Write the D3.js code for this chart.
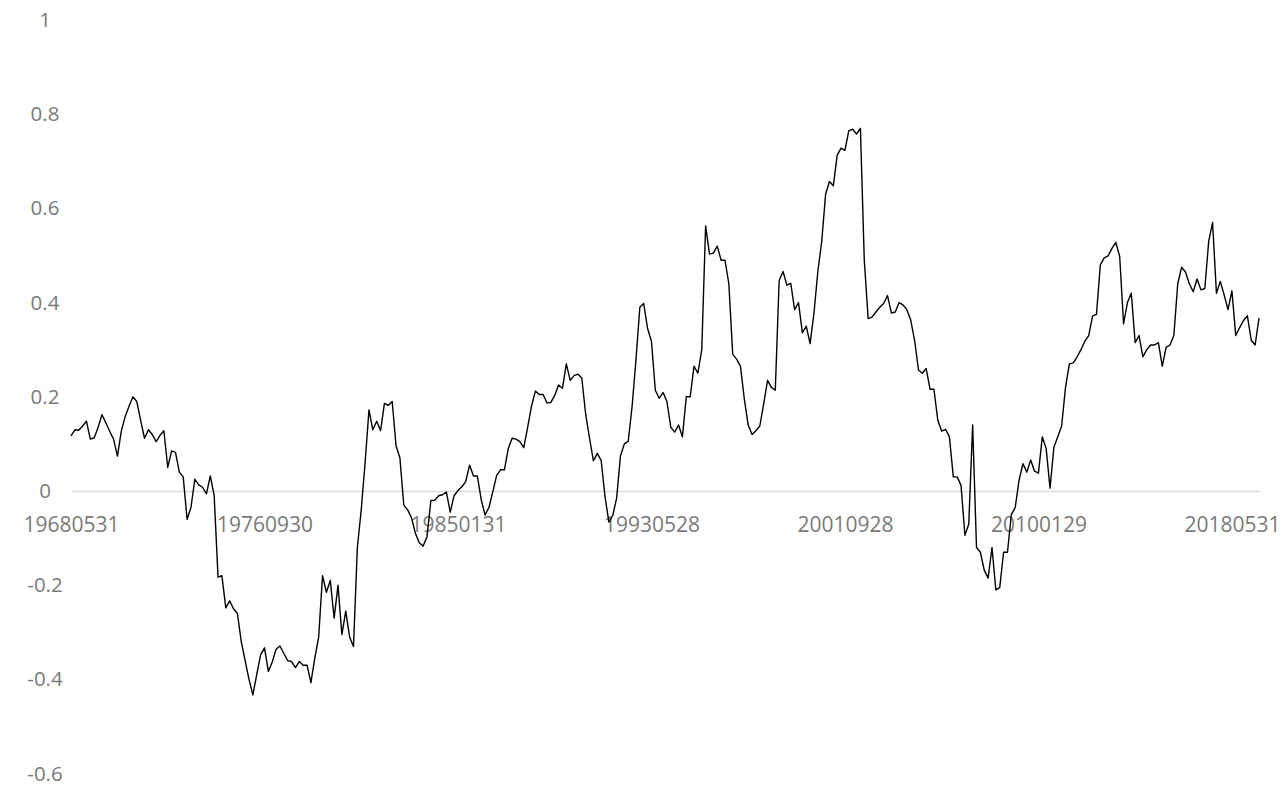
<!DOCTYPE html>
<html>
<head>
<meta charset="utf-8">
<script src="https://cdnjs.cloudflare.com/ajax/libs/d3/7.8.5/d3.min.js"></script>
<style>
  body { margin: 0; background: #fff; }
  .axis text { font-family: "Open Sans", "Liberation Sans", sans-serif; fill: #7a7a7a; }
</style>
</head>
<body>
<div id="chart"></div>
<script>
// one value every two months, 1968-05 .. 2019-07
var values = [
  0.117, 0.13, 0.129, 0.138, 0.148, 0.110, 0.113, 0.135, 0.162, 0.145,
  0.127, 0.11, 0.074, 0.127, 0.158, 0.18, 0.200, 0.19, 0.15, 0.112,
  0.13, 0.12, 0.105, 0.118, 0.128, 0.05, 0.085, 0.082, 0.04, 0.03,
  -0.06, -0.035, 0.025, 0.013, 0.008, -0.006, 0.032, -0.01, -0.183, -0.18,
  -0.248, -0.233, -0.25, -0.26, -0.32, -0.36, -0.40, -0.433, -0.39, -0.348,
  -0.333, -0.383, -0.363, -0.336, -0.329, -0.345, -0.36, -0.362, -0.375, -0.362,
  -0.37, -0.37, -0.407, -0.355, -0.31, -0.18, -0.215, -0.19, -0.27, -0.2,
  -0.305, -0.255, -0.31, -0.33, -0.12, -0.04, 0.06, 0.172, 0.13, 0.148,
  0.128, 0.186, 0.182, 0.19, 0.096, 0.07, -0.03, -0.04, -0.057, -0.09,
  -0.11, -0.117, -0.097, -0.02, -0.02, -0.01, -0.008, -0.002, -0.045, -0.01,
  0.001, 0.009, 0.02, 0.055, 0.032, 0.032, -0.018, -0.051, -0.035, -0.002,
  0.033, 0.045, 0.045, 0.09, 0.112, 0.11, 0.105, 0.092, 0.135, 0.18,
  0.212, 0.205, 0.205, 0.187, 0.188, 0.203, 0.225, 0.218, 0.27, 0.235,
  0.245, 0.248, 0.24, 0.163, 0.112, 0.064, 0.08, 0.065, -0.012, -0.066,
  -0.052, -0.015, 0.075, 0.10, 0.106, 0.18, 0.278, 0.39, 0.398, 0.345,
  0.318, 0.214, 0.197, 0.209, 0.19, 0.135, 0.125, 0.14, 0.115, 0.2,
  0.2, 0.265, 0.25, 0.30, 0.563, 0.503, 0.505, 0.52, 0.49, 0.49,
  0.44, 0.29, 0.28, 0.265, 0.195, 0.14, 0.12, 0.128, 0.138, 0.185,
  0.235, 0.22, 0.214, 0.447, 0.466, 0.437, 0.441, 0.385, 0.40, 0.336,
  0.35, 0.313, 0.378, 0.466, 0.53, 0.63, 0.657, 0.648, 0.713, 0.728,
  0.723, 0.765, 0.768, 0.758, 0.77, 0.49, 0.366, 0.369, 0.38, 0.39,
  0.398, 0.415, 0.378, 0.38, 0.40, 0.395, 0.385, 0.363, 0.32, 0.257,
  0.25, 0.26, 0.216, 0.216, 0.15, 0.127, 0.131, 0.115, 0.03, 0.03,
  0.012, -0.094, -0.07, 0.14, -0.12, -0.13, -0.168, -0.185, -0.12, -0.21,
  -0.205, -0.13, -0.13, -0.05, -0.035, 0.023, 0.058, 0.04, 0.066, 0.042,
  0.038, 0.115, 0.09, 0.006, 0.093, 0.115, 0.138, 0.22, 0.27, 0.272,
  0.285, 0.30, 0.318, 0.33, 0.372, 0.375, 0.48, 0.495, 0.499, 0.515,
  0.528, 0.498, 0.355, 0.40, 0.42, 0.315, 0.33, 0.285, 0.3, 0.31,
  0.31, 0.315, 0.265, 0.305, 0.31, 0.33, 0.44, 0.475, 0.465, 0.44,
  0.423, 0.45, 0.427, 0.43, 0.53, 0.57, 0.42, 0.445, 0.416, 0.385,
  0.425, 0.33, 0.347, 0.362, 0.372, 0.32, 0.31, 0.367
];

var tickLabels = ["19680531", "19760930", "19850131", "19930528", "20010928", "20100129", "20180531"];
var tickStep = 50;   // a label every 100 months
var yTicks = [1, 0.8, 0.6, 0.4, 0.2, 0, -0.2, -0.4, -0.6];

var width = 1286,
    height = 789;

var x = d3.scaleLinear().domain([0, values.length - 1]).range([71, 1259]),
    y = d3.scaleLinear().domain([-0.6, 1]).range([773.6, 20]);

var svg = d3.select("#chart").append("svg")
    .attr("width", width)
    .attr("height", height);

svg.append("rect")
    .attr("width", width)
    .attr("height", height)
    .attr("fill", "#fff");

var yAxis = d3.axisLeft(y)
    .tickValues(yTicks)
    .tickSize(0)
    .tickFormat(function (d) { return String(d); });

var gy = svg.append("g")
    .attr("class", "axis axis--y")
    .attr("transform", "translate(45,0)")
    .call(yAxis);
gy.select(".domain").remove();
gy.selectAll("text")
    .attr("x", 0)
    .style("text-anchor", "middle")
    .style("font-size", "20.5px");

var xAxis = d3.axisBottom(x)
    .tickValues(tickLabels.map(function (d, i) { return i * tickStep; }))
    .tickSize(0)
    .tickPadding(26)
    .tickFormat(function (d, i) { return tickLabels[i]; });

var gx = svg.append("g")
    .attr("class", "axis axis--x")
    .attr("transform", "translate(0," + y(0) + ")")
    .call(xAxis);
gx.select(".domain")
    .attr("stroke", "#d9d9d9")
    .attr("stroke-width", 1.5);
gx.selectAll("text")
    .style("font-size", "21px");

var line = d3.line()
    .x(function (d, i) { return x(i); })
    .y(function (d) { return y(d); });

svg.append("path")
    .datum(values)
    .attr("fill", "none")
    .attr("stroke", "#000")
    .attr("stroke-width", 1.4)
    .attr("stroke-linejoin", "round")
    .attr("d", line);
</script>
</body>
</html>
